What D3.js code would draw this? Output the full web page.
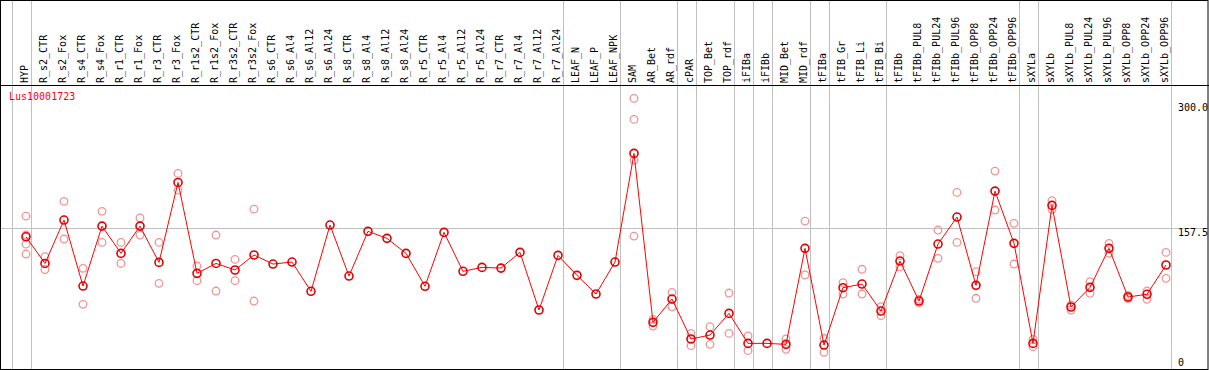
<!DOCTYPE html>
<html>
<head>
<meta charset="utf-8">
<script src="https://cdn.jsdelivr.net/npm/d3@7"></script>
<style>
  body { margin: 0; background: #fff; }
  svg { display: block; font-family: "DejaVu Sans Mono", monospace; font-size: 10px; }
</style>
</head>
<body>
<svg id="chart"></svg>
<script>
var width = 1209,
  height = 370;

var gene = "Lus10001723";

var samples = ["HYP", "R_s2_CTR", "R_s2_Fox", "R_s4_CTR", "R_s4_Fox", "R_r1_CTR", "R_r1_Fox",
  "R_r3_CTR", "R_r3_Fox", "R_r1s2_CTR", "R_r1s2_Fox", "R_r3s2_CTR", "R_r3s2_Fox",
  "R_s6_CTR", "R_s6_Al4", "R_s6_Al12", "R_s6_Al24", "R_s8_CTR", "R_s8_Al4", "R_s8_Al12", "R_s8_Al24",
  "R_r5_CTR", "R_r5_Al4", "R_r5_Al12", "R_r5_Al24", "R_r7_CTR", "R_r7_Al4", "R_r7_Al12", "R_r7_Al24",
  "LEAF_N", "LEAF_P", "LEAF_NPK", "SAM", "AR_Bet", "AR_rdf", "cPAR", "TOP_Bet", "TOP_rdf",
  "iFIBa", "iFIBb", "MID_Bet", "MID_rdf", "tFIBa", "tFIB_Gr", "tFIB_Li", "tFIB_Bi",
  "tFIBb", "tFIBb_PUL8", "tFIBb_PUL24", "tFIBb_PUL96", "tFIBb_OPP8", "tFIBb_OPP24", "tFIBb_OPP96",
  "sXYLa", "sXYLb", "sXYLb_PUL8", "sXYLb_PUL24", "sXYLb_PUL96", "sXYLb_OPP8", "sXYLb_OPP24", "sXYLb_OPP96"];

var means = [147.4, 117, 166.5, 91.2, 159.6, 128.5, 159.6, 118.2, 209.4, 105.7, 117, 109.5, 126.6,
  116.3, 118.6, 85.2, 160.8, 102.6, 153.6, 145.6, 128.5,
  90.9, 152.4, 108, 112.5, 111.7, 129.6, 63.9, 126.2,
  103.4, 82.1, 118.6, 242.5, 49.8, 76.4, 30.8, 35.3, 60,
  25.8, 25.8, 24.7, 134.2, 23.9, 89.3, 93.5, 62.7,
  119.7, 74.1, 139.1, 169.9, 92, 199.5, 139.9,
  25.8, 183.2, 67.3, 89.7, 134.2, 78.7, 81.8, 115.2];

var replicates = [[171, 149.4, 139, 127.7], [124.6, 110], [187.8, 144.8], [111.4, 70.3], [176.4, 141],
  [141, 117], [168.8, 149.4], [141, 94.3], [219.7, 200.7], [114, 97.3], [149.4, 85.5], [121.6, 97.3],
  [179, 74.1],
  [], [], [], [], [], [], [], [],
  [], [], [], [], [], [], [], [],
  [], [], [], [305.2, 281.3, 234.9, 148.2], [53.2, 45.6], [84, 67.6], [37.2, 23.2], [44.8, 24.7], [83.2, 37.2],
  [34.2, 17.5], [], [30.8, 19], [165.3, 103.8], [31.6, 15.6], [95, 82.1], [110.3, 82.1], [67.6, 57.4],
  [125.8, 113.2], [76, 72], [155.1, 122.8], [198, 141], [107.5, 77.2], [222.3, 177.9], [162.7, 116.3],
  [30.4, 22], [188.5, 178.7], [69.6, 63.9], [96.1, 82.9], [139.9, 128.5], [80.5, 77], [85.5, 76.1], [129.6, 100]];

// index of the first sample after each grey separator
var groupBreaks = [0, 1, 29, 32, 35, 36, 38, 39, 40, 42, 43, 46, 53, 54, 61];

var yTicks = [0, 157.5, 300];
var yTickLabels = ["0", "157.5", "300.0"];

var colStep = 19,
  colStart = 11.7,
  headerBottom = 85,
  plotRight = 1170.7;

var svg = d3.select("#chart")
  .attr("width", width)
  .attr("height", height);

var x = function (i) { return colStart + colStep * i; };
var xPoint = function (i) { return x(i) + 14.3; };

var y = d3.scaleLinear()
  .domain([0, 300])
  .range([366, 103]);

// horizontal grid line
svg.append("line")
  .attr("x1", 1).attr("x2", width - 1)
  .attr("y1", Math.round(y(157.5)) + 0.5).attr("y2", Math.round(y(157.5)) + 0.5)
  .attr("stroke", "#c0c0c0");

// group separators
svg.selectAll(".sep")
  .data(groupBreaks)
  .enter().append("line")
  .attr("class", "sep")
  .attr("x1", function (d) { return Math.round(x(d)) + 0.5; })
  .attr("x2", function (d) { return Math.round(x(d)) + 0.5; })
  .attr("y1", 1).attr("y2", height - 1)
  .attr("stroke", "#c0c0c0");

// frame + header line
svg.append("rect")
  .attr("x", 0.5).attr("y", 0.5)
  .attr("width", width - 1.5).attr("height", height - 1)
  .attr("fill", "none").attr("stroke", "#000");
svg.append("line")
  .attr("x1", 0).attr("x2", width)
  .attr("y1", headerBottom + 0.5).attr("y2", headerBottom + 0.5)
  .attr("stroke", "#000");

// sample labels
svg.selectAll(".lab")
  .data(samples)
  .enter().append("text")
  .attr("class", "lab")
  .attr("transform", function (d, i) { return "translate(" + (xPoint(i) + 1.5) + "," + 83 + ") rotate(-90)"; })
  .attr("fill", "#000")
  .text(function (d) { return d; });

// y tick labels
svg.selectAll(".ytick")
  .data(yTicks)
  .enter().append("text")
  .attr("class", "ytick")
  .attr("x", 1178)
  .attr("y", function (d) { return d === 0 ? y(d) : y(d) + 8; })
  .attr("fill", "#000")
  .text(function (d, i) { return yTickLabels[i]; });

svg.append("text")
  .attr("x", 9).attr("y", 100)
  .attr("fill", "red")
  .text(gene);

// replicate points
var reps = [];
replicates.forEach(function (arr, i) {
  arr.forEach(function (v) { reps.push({ i: i, v: v }); });
});

svg.selectAll(".rep")
  .data(reps)
  .enter().append("circle")
  .attr("class", "rep")
  .attr("cx", function (d) { return xPoint(d.i); })
  .attr("cy", function (d) { return y(d.v); })
  .attr("r", 3.8)
  .attr("fill", "none")
  .attr("stroke", "#f09595")
  .attr("stroke-width", 1.3);

// mean line
var line = d3.line()
  .x(function (d, i) { return xPoint(i); })
  .y(function (d) { return y(d); });

svg.append("path")
  .datum(means)
  .attr("d", line)
  .attr("fill", "none")
  .attr("stroke", "red")
  .attr("stroke-width", 1);

svg.selectAll(".mean")
  .data(means)
  .enter().append("circle")
  .attr("class", "mean")
  .attr("cx", function (d, i) { return xPoint(i); })
  .attr("cy", function (d) { return y(d); })
  .attr("r", 4)
  .attr("fill", "none")
  .attr("stroke", "#e00000")
  .attr("stroke-width", 1.6);
</script>
</body>
</html>
